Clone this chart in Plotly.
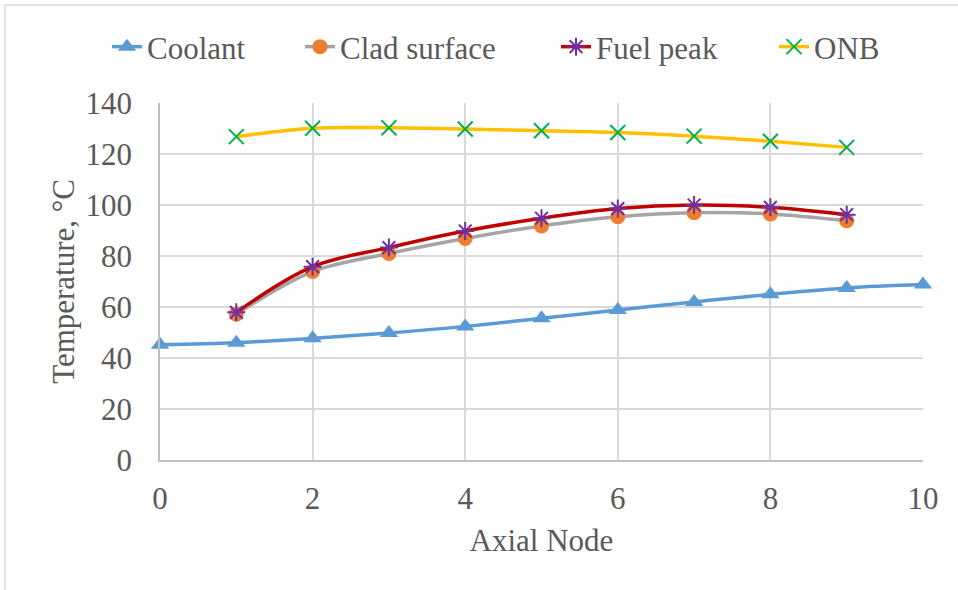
import plotly.graph_objects as go

# ---- data ----
x_coolant = [0, 1, 2, 3, 4, 5, 6, 7, 8, 9, 10]
coolant = [45.2, 46.0, 47.7, 49.8, 52.4, 55.6, 58.8, 62.0, 65.0, 67.5, 68.8]

x_nodes = [1, 2, 3, 4, 5, 6, 7, 8, 9]
clad_surface = [57.2, 73.9, 81.0, 86.9, 91.8, 95.4, 97.0, 96.5, 93.8]
fuel_peak = [57.9, 75.8, 83.3, 89.8, 94.8, 98.6, 100.0, 99.1, 96.2]
onb = [126.8, 130.1, 130.3, 129.8, 129.1, 128.4, 127.0, 125.0, 122.6]

x_ticks = [0, 2, 4, 6, 8, 10]
y_ticks = [0, 20, 40, 60, 80, 100, 120, 140]

FONT = "Liberation Serif, Times New Roman, serif"
TXT = "#595959"
GRID = "#D9D9D9"

fig = go.Figure()

fig.add_trace(go.Scatter(
    x=x_coolant, y=coolant, name="Coolant", mode="lines+markers",
    line=dict(color="#5B9BD5", width=3.5, shape="spline"),
    marker=dict(symbol="triangle-up", size=16, color="#5B9BD5"),
    cliponaxis=False, legend="legend"))
fig.add_trace(go.Scatter(
    x=x_nodes, y=clad_surface, name="Clad surface", mode="lines+markers",
    line=dict(color="#A5A5A5", width=3.5, shape="spline"),
    marker=dict(symbol="circle", size=15, color="#ED7D31"),
    cliponaxis=False, legend="legend2"))
fig.add_trace(go.Scatter(
    x=x_nodes, y=fuel_peak, name="Fuel peak", mode="lines+markers",
    line=dict(color="#C00000", width=3.5, shape="spline"),
    marker=dict(symbol="asterisk-open", size=15, color="#7030A0",
                line=dict(color="#7030A0", width=2)),
    cliponaxis=False, legend="legend3"))
fig.add_trace(go.Scatter(
    x=x_nodes, y=onb, name="ONB", mode="lines+markers",
    line=dict(color="#FFC000", width=3.5, shape="spline"),
    marker=dict(symbol="x-thin-open", size=15, color="#00B050",
                line=dict(color="#00B050", width=2)),
    cliponaxis=False, legend="legend4"))

L, R, T, B = 160, 35, 103, 130
W, H = 958, 590
pw = W - L - R
ph = H - T - B

def px_x(p):
    return (p - L) / pw

def px_y(p):
    return (H - B - p) / ph

text_starts = [155, 348, 604, 822]
legends = {}
for i, ts in enumerate(text_starts):
    key = "legend" if i == 0 else f"legend{i+1}"
    legends[key] = go.layout.Legend(
        orientation="h", yanchor="middle", xanchor="left",
        bgcolor="rgba(0,0,0,0)", x=px_x(ts - 48), y=px_y(47),
        font=dict(family=FONT, size=31, color=TXT))

fig.update_layout(
    width=W, height=H,
    margin=dict(l=L, r=R, t=T, b=B, autoexpand=False),
    paper_bgcolor="white", plot_bgcolor="white",
    font=dict(family=FONT, size=31, color=TXT),
    showlegend=True,
    xaxis=dict(range=[0, 10], tickvals=x_ticks, showgrid=True, gridcolor=GRID,
               gridwidth=1.5, showline=True, linecolor="#BFBFBF", linewidth=1.5,
               mirror=False, zeroline=False, ticks="", ticklabelstandoff=10,
               tickfont=dict(family=FONT, size=31, color=TXT),
               title=dict(text="Axial Node", standoff=14,
                          font=dict(family=FONT, size=31, color=TXT))),
    yaxis=dict(range=[0, 140], tickvals=y_ticks, showgrid=True, gridcolor=GRID,
               gridwidth=1.5, showline=True, linecolor="#BFBFBF", linewidth=1.5,
               zeroline=False, ticks="", ticklabelstandoff=20,
               tickfont=dict(family=FONT, size=31, color=TXT),
               title=dict(text="Temperature, °C", standoff=2,
                          font=dict(family=FONT, size=31, color=TXT))),
)
fig.update_layout(**legends)

# outer chart frame (left and top edges visible)
fig.add_shape(type="rect", xref="paper", yref="paper",
              x0=px_x(5), x1=px_x(W + 20), y0=px_y(H + 20), y1=px_y(5),
              line=dict(color=GRID, width=1.5), fillcolor="rgba(0,0,0,0)",
              layer="below")

fig.write_html("out.html")
